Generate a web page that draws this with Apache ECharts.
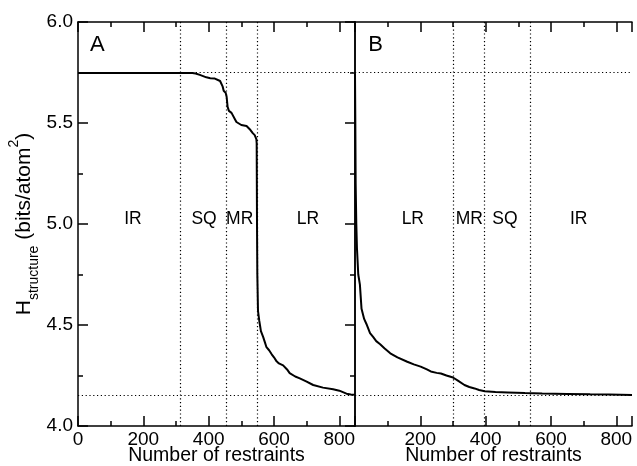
<!DOCTYPE html>
<html><head><meta charset="utf-8">
<script src="https://cdn.jsdelivr.net/npm/echarts@6/dist/echarts.min.js"></script>
<style>html,body{margin:0;padding:0;background:#fff}#c{width:637px;height:466px}</style>
</head><body><div id="c"></div>
<script>
// ---- data ----
const xMax = 848;
const curveA_x = [0,300,350,360,373,393,405,419,424,435,440,443,446,452,455,458,462,470,475,480,485,490,500,516,522,528,535,541,544,546,547,548,549,551,555,557,560,567,572,577,585,593,600,608,615,628,640,648,665,679,700,720,750,781,800,822,835,848];
const curveA_y = [5.748,5.748,5.747,5.745,5.738,5.726,5.722,5.720,5.713,5.708,5.700,5.680,5.660,5.650,5.630,5.580,5.560,5.550,5.545,5.520,5.505,5.500,5.490,5.485,5.475,5.465,5.450,5.440,5.440,5.420,5.400,5.000,4.750,4.570,4.520,4.500,4.470,4.440,4.415,4.390,4.375,4.355,4.340,4.320,4.310,4.300,4.280,4.262,4.245,4.236,4.220,4.203,4.190,4.182,4.175,4.160,4.156,4.155];
const curveB_x = [0,1,2,4,6,10,15,20,28,35,46,56,65,77,90,108,130,160,180,201,220,232,250,263,280,300,315,335,350,366,380,397,430,468,520,573,650,720,778,848];
const curveB_y = [5.745,5.500,5.200,5.000,4.880,4.750,4.700,4.580,4.530,4.505,4.460,4.440,4.420,4.405,4.385,4.360,4.340,4.318,4.305,4.294,4.280,4.270,4.263,4.260,4.250,4.240,4.225,4.203,4.193,4.186,4.178,4.172,4.168,4.166,4.163,4.161,4.159,4.157,4.156,4.154];
const hLines = [5.745, 4.154];
const vLinesA = [312, 453, 548];
const vLinesB = [300, 396, 536];
const regionNamesA = ['IR','SQ','MR','LR'];
const regionXA = [168, 386, 495, 704];
const regionNamesB = ['LR','MR','SQ','IR'];
const regionXB = [177, 350, 459, 685];
const regionY = 5.025;
const panelNames = ['A','B'];
const panelX = [59, 63];
const panelY = 5.885;
const yTickLabels = ['4.0','4.5','5.0','5.5','6.0'];
const xTickLabels = ['0','200','400','600','800'];

// ---- chart ----
const FONT = 'Liberation Sans';
const black = '#000';
const zip = (xs, ys) => xs.map((x, i) => [x, ys[i]]);

function xAx(grid, pos, labels, hideMin) {
  return {
    type: 'value', gridIndex: grid, position: pos, min: 0, max: xMax, interval: 200,
    axisLine: {show: true, lineStyle: {color: black, width: 1.5}},
    axisTick: {show: true, inside: true, length: 10, lineStyle: {color: black, width: 1.5}},
    minorTick: {show: true, splitNumber: 2, length: 5, lineStyle: {color: black, width: 1.5}},
    splitLine: {show: false},
    axisLabel: labels ? {
      show: true, color: black, fontSize: 19, fontFamily: FONT, margin: 4,
      showMaxLabel: false, showMinLabel: !hideMin,
      formatter: v => xTickLabels[xTickLabels.indexOf(String(v))] ?? ''
    } : {show: false},
    name: labels ? 'Number of restraints' : '',
    nameLocation: 'middle', nameGap: 20, nameMoveOverlap: false,
    nameTextStyle: {color: black, fontSize: 19.5, fontFamily: FONT}
  };
}

function yAx(grid, pos, opts) {
  return Object.assign({
    type: 'value', gridIndex: grid, position: pos, min: 4, max: 6, interval: 0.5,
    axisLine: {show: true, lineStyle: {color: black, width: 1.5}},
    axisTick: {show: true, inside: true, length: 10, lineStyle: {color: black, width: 1.5}},
    minorTick: {show: true, splitNumber: 2, length: 5, lineStyle: {color: black, width: 1.5}},
    splitLine: {show: false},
    axisLabel: {show: false}
  }, opts);
}

function markLines(vs, hs) {
  return {
    silent: true, symbol: 'none', label: {show: false},
    lineStyle: {color: black, width: 1.2, type: [1.2, 2.6], opacity: 1},
    emphasis: {disabled: true},
    data: vs.map(v => ({xAxis: v})).concat(hs.map(h => ({yAxis: h})))
  };
}

function textSeries(xi, yi, names, xs, y, size) {
  return {
    type: 'scatter', xAxisIndex: xi, yAxisIndex: yi, symbol: 'circle', symbolSize: 0, silent: true,
    itemStyle: {color: '#000', opacity: 1},
    label: {show: true, position: 'inside', formatter: '{b}', color: '#000', opacity: 1,
      textBorderWidth: 0, fontSize: size, fontFamily: FONT},
    emphasis: {disabled: true},
    data: names.map((n, i) => ({name: n, value: [xs[i], y]})), z: 5
  };
}

const chart = echarts.init(document.getElementById('c'), null, {renderer: 'canvas'});
chart.setOption({
  animation: false,
  backgroundColor: '#fff',
  textStyle: {fontFamily: FONT},
  grid: [
    {left: 78, top: 22, width: 277, height: 404, containLabel: false, outerBoundsMode: 'none'},
    {left: 355, top: 22, width: 277, height: 404, containLabel: false, outerBoundsMode: 'none'}
  ],
  xAxis: [
    xAx(0, 'bottom', true, false),
    xAx(0, 'top', false),
    xAx(1, 'bottom', true, true),
    xAx(1, 'top', false)
  ],
  yAxis: [
    yAx(0, 'left', {
      axisLabel: {show: true, color: black, fontSize: 19, fontFamily: FONT, margin: 5,
        formatter: v => yTickLabels.find(t => Math.abs(parseFloat(t) - v) < 1e-6) ?? ''},
      name: '{m|H}{sub|structure}{m| (bits/atom}{sup|2}{m|)}',
      nameLocation: 'middle', nameGap: 37, nameMoveOverlap: false,
      nameTextStyle: {
        color: black, fontFamily: FONT,
        rich: {
          m: {fontSize: 21, fontFamily: FONT, color: black, lineHeight: 34, verticalAlign: 'middle'},
          sub: {fontSize: 14, fontFamily: FONT, color: black, lineHeight: 14, verticalAlign: 'bottom'},
          sup: {fontSize: 14, fontFamily: FONT, color: black, lineHeight: 14, verticalAlign: 'top'}
        }
      }
    }),
    yAx(1, 'left', {axisTick: {show: false}, minorTick: {show: false}}),
    yAx(1, 'right', {})
  ],
  series: [
    {type: 'line', xAxisIndex: 0, yAxisIndex: 0, data: [], markLine: markLines(vLinesA, hLines), z: 1},
    {type: 'line', xAxisIndex: 2, yAxisIndex: 1, data: [], markLine: markLines(vLinesB, hLines), z: 1},
    {type: 'line', xAxisIndex: 0, yAxisIndex: 0, data: zip(curveA_x, curveA_y), showSymbol: false, silent: true,
      lineStyle: {color: black, width: 2}, z: 3},
    {type: 'line', xAxisIndex: 2, yAxisIndex: 1, data: zip(curveB_x, curveB_y), showSymbol: false, silent: true,
      lineStyle: {color: black, width: 2}, z: 3},
    textSeries(0, 0, regionNamesA, regionXA, regionY, 17.5),
    textSeries(2, 1, regionNamesB, regionXB, regionY, 17.5),
    textSeries(0, 0, [panelNames[0]], [panelX[0]], panelY, 22),
    textSeries(2, 1, [panelNames[1]], [panelX[1]], panelY, 22)
  ]
});
</script>
</body></html>
